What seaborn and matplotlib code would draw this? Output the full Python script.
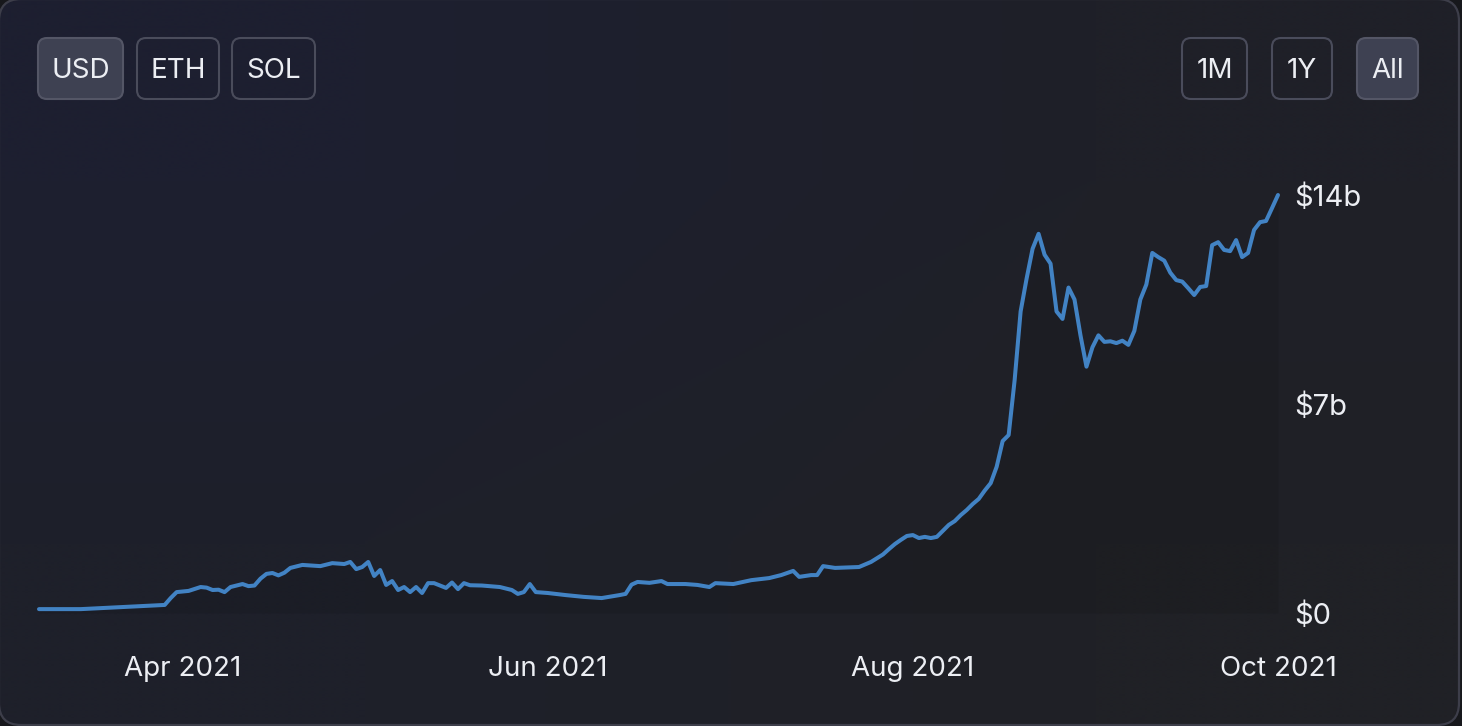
import numpy as np
import pandas as pd
import matplotlib
matplotlib.use('Agg')
import matplotlib.pyplot as plt
import matplotlib.dates as mdates
from matplotlib.patches import FancyBboxPatch
from matplotlib.ticker import FuncFormatter
import seaborn as sns

# --- data (USD, billions) ---
dates = [
    "2021-03-08", "2021-03-15", "2021-03-20", "2021-03-25", "2021-03-29", "2021-03-30", "2021-03-31",
    "2021-04-02", "2021-04-04", "2021-04-05", "2021-04-06", "2021-04-07", "2021-04-08", "2021-04-09",
    "2021-04-10", "2021-04-11", "2021-04-12", "2021-04-13", "2021-04-14", "2021-04-15", "2021-04-16",
    "2021-04-17", "2021-04-18", "2021-04-19", "2021-04-21", "2021-04-24", "2021-04-26", "2021-04-28",
    "2021-04-29", "2021-04-30", "2021-05-01", "2021-05-02", "2021-05-03", "2021-05-04", "2021-05-05",
    "2021-05-06", "2021-05-07", "2021-05-08", "2021-05-09", "2021-05-10", "2021-05-11", "2021-05-12",
    "2021-05-13", "2021-05-15", "2021-05-16", "2021-05-17", "2021-05-18", "2021-05-19", "2021-05-21",
    "2021-05-24", "2021-05-26", "2021-05-27", "2021-05-28", "2021-05-29", "2021-05-30", "2021-06-01",
    "2021-06-04", "2021-06-07", "2021-06-10", "2021-06-13", "2021-06-14", "2021-06-15", "2021-06-16",
    "2021-06-18", "2021-06-20", "2021-06-21", "2021-06-24", "2021-06-26", "2021-06-28", "2021-06-29",
    "2021-07-02", "2021-07-05", "2021-07-08", "2021-07-10", "2021-07-12", "2021-07-13", "2021-07-15",
    "2021-07-16", "2021-07-17", "2021-07-19", "2021-07-23", "2021-07-25", "2021-07-27", "2021-07-28",
    "2021-07-29", "2021-07-30", "2021-07-31", "2021-08-01", "2021-08-02", "2021-08-03", "2021-08-04",
    "2021-08-05", "2021-08-06", "2021-08-07", "2021-08-08", "2021-08-09", "2021-08-10", "2021-08-11",
    "2021-08-12", "2021-08-13", "2021-08-14", "2021-08-15", "2021-08-16", "2021-08-17", "2021-08-18",
    "2021-08-19", "2021-08-20", "2021-08-21", "2021-08-22", "2021-08-23", "2021-08-24", "2021-08-25",
    "2021-08-26", "2021-08-27", "2021-08-28", "2021-08-29", "2021-08-30", "2021-08-31", "2021-09-01",
    "2021-09-02", "2021-09-03", "2021-09-04", "2021-09-05", "2021-09-06", "2021-09-07", "2021-09-08",
    "2021-09-09", "2021-09-10", "2021-09-11", "2021-09-12", "2021-09-13", "2021-09-14", "2021-09-15",
    "2021-09-16", "2021-09-17", "2021-09-18", "2021-09-19", "2021-09-20", "2021-09-21", "2021-09-22",
    "2021-09-23", "2021-09-24", "2021-09-25", "2021-09-26", "2021-09-27", "2021-09-28", "2021-09-29",
    "2021-09-30", "2021-10-01",
]
values = [
    0.13, 0.13, 0.18, 0.23, 0.27, 0.50, 0.70,
    0.74, 0.87, 0.85, 0.77, 0.78, 0.70, 0.87,
    0.92, 0.97, 0.90, 0.92, 1.15, 1.31, 1.34,
    1.26, 1.35, 1.51, 1.61, 1.57, 1.67, 1.64,
    1.71, 1.47, 1.54, 1.71, 1.24, 1.44, 0.94,
    1.07, 0.77, 0.87, 0.70, 0.87, 0.67, 1.00,
    1.00, 0.84, 1.02, 0.80, 1.00, 0.93, 0.92,
    0.87, 0.77, 0.64, 0.70, 0.97, 0.70, 0.67,
    0.60, 0.54, 0.50, 0.60, 0.64, 0.95, 1.04,
    1.01, 1.07, 0.97, 0.97, 0.94, 0.87, 1.00,
    0.97, 1.10, 1.17, 1.27, 1.41, 1.21, 1.27,
    1.27, 1.57, 1.51, 1.54, 1.71, 1.96, 2.14,
    2.31, 2.45, 2.58, 2.61, 2.51, 2.55, 2.51,
    2.55, 2.75, 2.95, 3.08, 3.28, 3.45, 3.65,
    3.82, 4.10, 4.35, 4.90, 5.76, 5.96, 7.80,
    10.1, 11.2, 12.2, 12.7, 12.0, 11.7, 10.1,
    9.85, 10.9, 10.5, 9.3, 8.25, 8.9, 9.3,
    9.08, 9.10, 9.04, 9.12, 8.98, 9.45, 10.5,
    11.0, 12.06, 11.92, 11.8, 11.4, 11.15, 11.1,
    10.88, 10.65, 10.92, 10.95, 12.32, 12.42, 12.16,
    12.12, 12.49, 11.92, 12.06, 12.83, 13.09, 13.13,
    13.56, 14.0,
]
y_ticks = [0, 7, 14]
x_ticks = ["2021-04-01", "2021-06-01", "2021-08-01", "2021-10-01"]
currency_buttons = ["USD", "ETH", "SOL"]
range_buttons = ["1M", "1Y", "All"]

W, H = 1462, 726
LINE = "#4283c4"
TEXT = "#eceef3"

df = pd.DataFrame({"date": pd.to_datetime(dates), "value": values})

sns.set_theme(style="dark")
plt.rcParams['font.family'] = ['Inter', 'DejaVu Sans']

fig = plt.figure(figsize=(W / 100, H / 100), dpi=100)
fig.patch.set_facecolor("#17181c")

# background panel in pixel coordinates
bg = fig.add_axes([0, 0, 1, 1])
bg.set_xlim(0, W)
bg.set_ylim(H, 0)
bg.axis('off')
grad = np.array([[[29, 31, 48], [31, 32, 40]],
                 [[30, 32, 42], [32, 33, 38]]], dtype=float) / 255
panel = FancyBboxPatch((-1, -1), W - 2, H, boxstyle="round,pad=0,rounding_size=22",
                       facecolor="none", edgecolor="#3d3e4a", linewidth=1.6, zorder=3)
bg.add_patch(panel)
im = bg.imshow(grad, extent=(0, W, H, 0), interpolation='bilinear', aspect='auto', zorder=0)
im.set_clip_path(panel)


def button(x0, x1, label, selected):
    box = FancyBboxPatch((x0, 38), x1 - x0, 61, boxstyle="round,pad=0,rounding_size=9",
                         facecolor="#3e4152" if selected else "none",
                         edgecolor="#545666" if selected else "#4a4c5b",
                         linewidth=1.5, zorder=4)
    bg.add_patch(box)
    bg.text((x0 + x1) / 2, 71, label, color=TEXT, fontsize=20,
            ha='center', va='center', zorder=5)


for (x0, x1), lab, sel in zip([(38, 123), (137, 219), (232, 315)], currency_buttons, [True, False, False]):
    button(x0, x1, lab, sel)
for (x0, x1), lab, sel in zip([(1182, 1247), (1272, 1332), (1357, 1418)], range_buttons, [False, False, True]):
    button(x0, x1, lab, sel)

# main chart
left, right, bottom, top = 39, 1278, 613, 195
ax = fig.add_axes([left / W, (H - bottom) / H, (right - left) / W, (bottom - top) / H])
ax.set_facecolor("none")
ax.fill_between(df["date"], df["value"], 0, color="black", alpha=0.09, linewidth=0)
sns.lineplot(data=df, x="date", y="value", ax=ax, color=LINE, linewidth=2.9,
             solid_joinstyle='round', solid_capstyle='round', clip_on=False)

ax.set_xlim(df["date"].iloc[0], df["date"].iloc[-1])
ax.set_ylim(0, 14)
ax.set_xticks(pd.to_datetime(x_ticks))
ax.xaxis.set_major_formatter(mdates.DateFormatter("%b %Y"))
ax.set_yticks(y_ticks)
ax.yaxis.set_major_formatter(FuncFormatter(lambda v, p: "$0" if v == 0 else f"${v:g}b"))
ax.yaxis.tick_right()
ax.tick_params(axis='x', length=0, pad=31, labelsize=20, labelcolor=TEXT)
ax.tick_params(axis='y', length=0, pad=12, labelsize=21, labelcolor=TEXT)
ax.set_xlabel("")
ax.set_ylabel("")
ax.grid(False)
for s in ax.spines.values():
    s.set_visible(False)

fig.savefig("out.png", dpi=100, facecolor=fig.get_facecolor())
